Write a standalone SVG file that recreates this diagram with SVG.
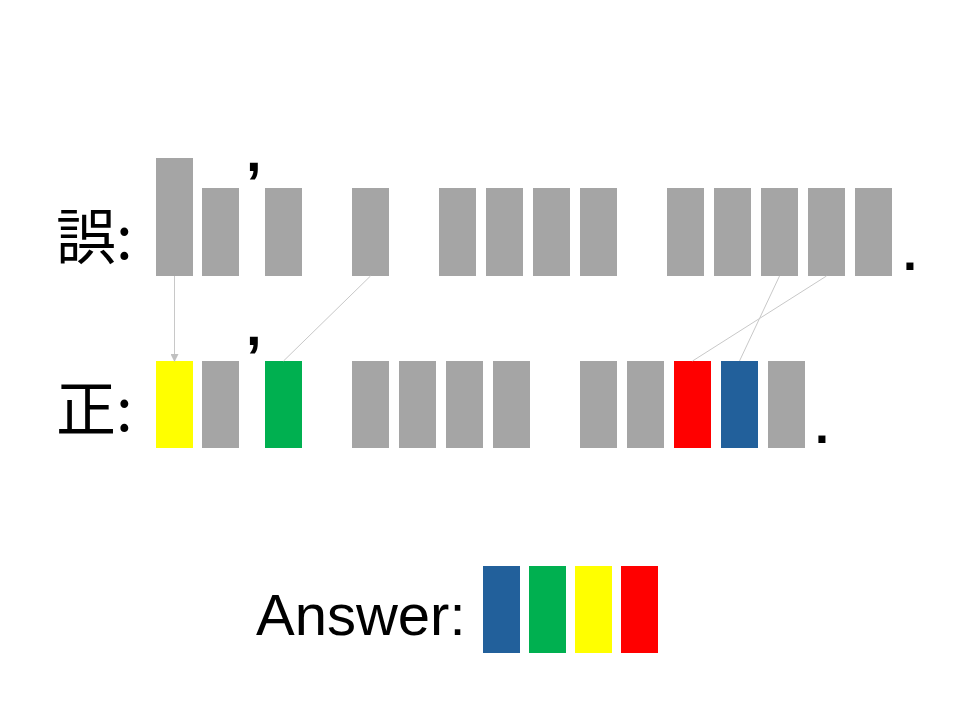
<svg xmlns="http://www.w3.org/2000/svg" width="960" height="720" viewBox="0 0 960 720">
<defs>
<style>
.g{fill:#a5a5a5}
.y{fill:#ffff00}
.gr{fill:#00b050}
.r{fill:#ff0000}
.b{fill:#22609b}
.lbl{font-family:"Noto Sans CJK JP","Noto Sans CJK SC",sans-serif;font-size:60px;fill:#000}
.p{font-family:"Liberation Sans",Arial,sans-serif;font-weight:bold;fill:#000}
.ans{font-family:"Liberation Sans",Arial,sans-serif;font-size:58px;fill:#000}
.c{stroke:#c8c8c8;stroke-width:1;fill:none}
</style>
<marker id="ah" markerWidth="8" markerHeight="8" refX="7" refY="4" orient="auto" markerUnits="userSpaceOnUse">
<path d="M0,0 L8,4 L0,8 z" fill="#c0c0c0"/>
</marker>
</defs>
<g id="row-wrong">
<text class="lbl" x="56" y="259">誤:</text>
<rect id="w1" class="g" x="156" y="158" width="37" height="118"/>
<rect id="w2" class="g" x="202" y="188" width="37" height="88"/>
<text class="p" x="246" y="171" font-size="56">,</text>
<rect id="w3" class="g" x="265" y="188" width="37" height="88"/>
<rect id="w4" class="g" x="352" y="188" width="37" height="88"/>
<rect id="w5" class="g" x="439" y="188" width="37" height="88"/>
<rect id="w6" class="g" x="486" y="188" width="37" height="88"/>
<rect id="w7" class="g" x="533" y="188" width="37" height="88"/>
<rect id="w8" class="g" x="580" y="188" width="37" height="88"/>
<rect id="w9" class="g" x="667" y="188" width="37" height="88"/>
<rect id="w10" class="g" x="714" y="188" width="37" height="88"/>
<rect id="w11" class="g" x="761" y="188" width="37" height="88"/>
<rect id="w12" class="g" x="808" y="188" width="37" height="88"/>
<rect id="w13" class="g" x="855" y="188" width="37" height="88"/>
<text class="p" x="903" y="270" font-size="50">.</text>
</g>
<g id="row-correct">
<text class="lbl" x="56" y="431">正:</text>
<rect id="c1" class="y" x="156" y="361" width="37" height="87"/>
<rect id="c2" class="g" x="202" y="361" width="37" height="87"/>
<text class="p" x="246" y="345" font-size="56">,</text>
<rect id="c3" class="gr" x="265" y="361" width="37" height="87"/>
<rect id="c4" class="g" x="352" y="361" width="37" height="87"/>
<rect id="c5" class="g" x="399" y="361" width="37" height="87"/>
<rect id="c6" class="g" x="446" y="361" width="37" height="87"/>
<rect id="c7" class="g" x="493" y="361" width="37" height="87"/>
<rect id="c8" class="g" x="580" y="361" width="37" height="87"/>
<rect id="c9" class="g" x="627" y="361" width="37" height="87"/>
<rect id="c10" class="r" x="674" y="361" width="37" height="87"/>
<rect id="c11" class="b" x="721" y="361" width="37" height="87"/>
<rect id="c12" class="g" x="768" y="361" width="37" height="87"/>
<text class="p" x="815" y="443" font-size="50">.</text>
</g>
<g id="connectors">
<line class="c" x1="174.5" y1="276" x2="174.5" y2="361" marker-end="url(#ah)"/>
<line class="c" x1="370.5" y1="276" x2="283.5" y2="361"/>
<line class="c" x1="779.5" y1="276" x2="739.5" y2="361"/>
<line class="c" x1="826.5" y1="276" x2="692.5" y2="361"/>
</g>
<g id="answer">
<text class="ans" x="256" y="635">Answer:</text>
<rect class="b" x="483" y="566" width="37" height="87"/>
<rect class="gr" x="529" y="566" width="37" height="87"/>
<rect class="y" x="575" y="566" width="37" height="87"/>
<rect class="r" x="621" y="566" width="37" height="87"/>
</g>
</svg>
